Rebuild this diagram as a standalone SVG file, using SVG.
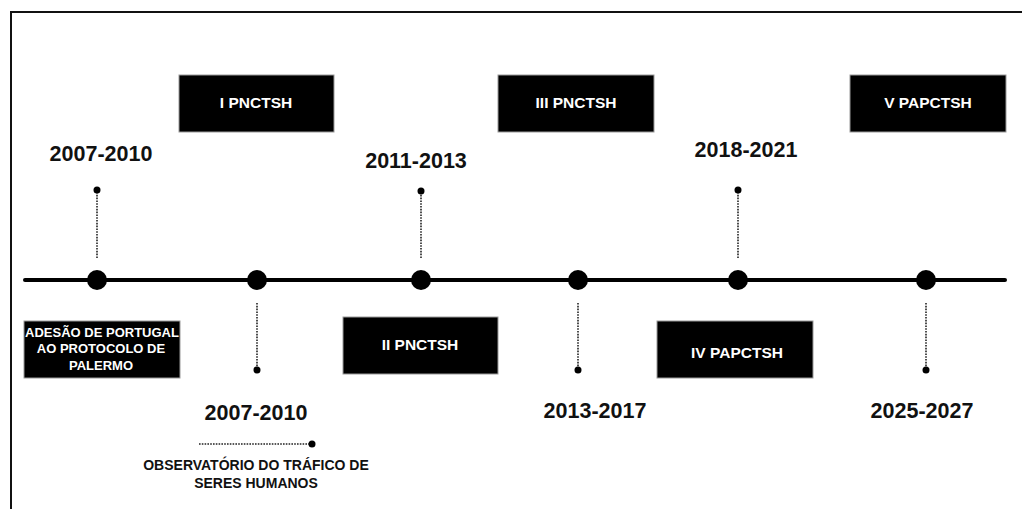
<svg xmlns="http://www.w3.org/2000/svg" width="1022" height="509" viewBox="0 0 1022 509">
<style>
.box{fill:#000;stroke:#9a9a9a;stroke-width:1}
.bt{fill:#fff;font-family:"Liberation Sans",Arial,sans-serif;font-weight:bold;font-size:15.5px;text-anchor:middle}
.yr{fill:#111;font-family:"Liberation Sans",Arial,sans-serif;font-weight:bold;font-size:21.5px;text-anchor:middle}
.lt{fill:#111;font-family:"Liberation Sans",Arial,sans-serif;font-weight:bold;font-size:14px;text-anchor:middle}
.lw{fill:#fff;font-family:"Liberation Sans",Arial,sans-serif;font-weight:bold;font-size:13px;text-anchor:middle}
.dot{stroke:#222;stroke-width:1.6;stroke-dasharray:1.6 1.2;fill:none}
.big{fill:#000}
.sm{fill:#000}
</style>
<rect width="1022" height="509" fill="#fff"/>
<path d="M11,509 V12 H1022" fill="none" stroke="#111" stroke-width="2"/>
<g id="connectors">
<line x1="25" y1="280" x2="1005" y2="280" stroke="#000" stroke-width="4" stroke-linecap="round"/>
<line class="dot" x1="97" y1="192" x2="97" y2="258"/>
<line class="dot" x1="421" y1="192" x2="421" y2="258"/>
<line class="dot" x1="738" y1="192" x2="738" y2="258"/>
<line class="dot" x1="257" y1="303" x2="257" y2="369"/>
<line class="dot" x1="578" y1="303" x2="578" y2="369"/>
<line class="dot" x1="926" y1="303" x2="926" y2="369"/>
<line class="dot" x1="199" y1="444" x2="310" y2="444"/>
</g>
<g id="n1">
<circle class="big" cx="97" cy="280" r="10"/>
<circle class="sm" cx="97" cy="190" r="3.5"/>
<text class="yr" x="101" y="161">2007-2010</text>
<rect class="box" x="24" y="321" width="156" height="57"/>
<text class="lw" x="102" y="337">ADESÃO DE PORTUGAL</text>
<text class="lw" x="101" y="353">AO PROTOCOLO DE</text>
<text class="lw" x="101" y="370">PALERMO</text>
</g>
<g id="n2">
<circle class="big" cx="257" cy="280" r="10"/>
<circle class="sm" cx="257" cy="370" r="3.5"/>
<rect class="box" x="179" y="75" width="155" height="57"/>
<text class="bt" x="256" y="108">I PNCTSH</text>
<text class="yr" x="256" y="420">2007-2010</text>
<circle class="sm" cx="312" cy="444" r="3.5"/>
<text class="lt" x="256" y="470">OBSERVATÓRIO DO TRÁFICO DE</text>
<text class="lt" x="256" y="488">SERES HUMANOS</text>
</g>
<g id="n3">
<circle class="big" cx="421" cy="280" r="10"/>
<circle class="sm" cx="421" cy="191" r="3.5"/>
<text class="yr" x="416" y="168">2011-2013</text>
<rect class="box" x="343" y="317" width="155" height="57"/>
<text class="bt" x="420" y="350">II PNCTSH</text>
</g>
<g id="n4">
<circle class="big" cx="578" cy="280" r="10"/>
<circle class="sm" cx="578" cy="370" r="3.5"/>
<rect class="box" x="498" y="75" width="156" height="57"/>
<text class="bt" x="576" y="108">III PNCTSH</text>
<text class="yr" x="595" y="418">2013-2017</text>
</g>
<g id="n5">
<circle class="big" cx="738" cy="280" r="10"/>
<circle class="sm" cx="738" cy="190" r="3.5"/>
<text class="yr" x="746" y="157">2018-2021</text>
<rect class="box" x="657" y="321" width="156" height="57"/>
<text class="bt" x="737" y="358">IV PAPCTSH</text>
</g>
<g id="n6">
<circle class="big" cx="926" cy="280" r="10"/>
<circle class="sm" cx="926" cy="370" r="3.5"/>
<rect class="box" x="850" y="75" width="156" height="57"/>
<text class="bt" x="928" y="108">V PAPCTSH</text>
<text class="yr" x="922" y="418">2025-2027</text>
</g>
</svg>
